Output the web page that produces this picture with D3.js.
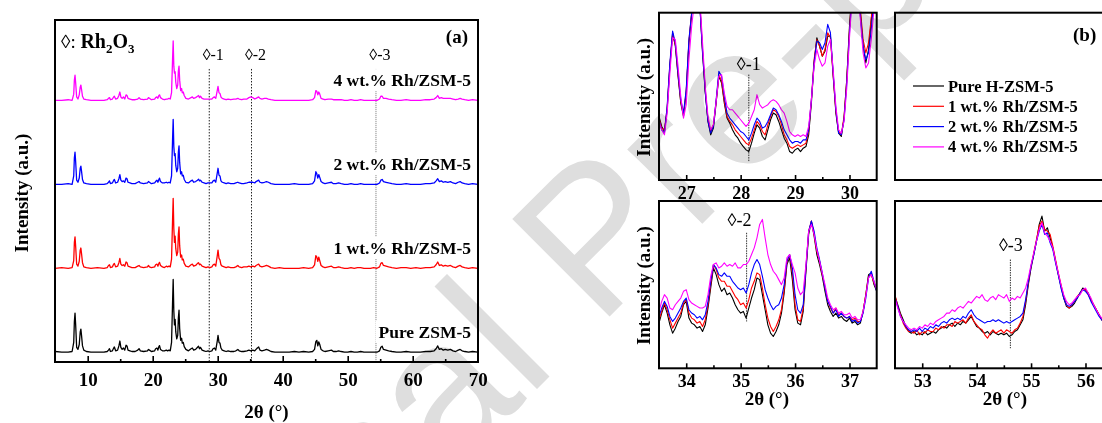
<!DOCTYPE html>
<html>
<head>
<meta charset="utf-8">
<script src="https://cdn.jsdelivr.net/npm/d3@7"></script>
<style>
  body { margin: 0; background: #fff; }
  svg { display: block; }
</style>
</head>
<body>
<svg id="chart" width="1102" height="423"></svg>
<script>
// ---------- Panel (a): full XRD patterns, 5–70° ----------
const anglesA = [
  5, 6, 7, 7.6, 7.85, 7.95, 8.05, 8.15, 8.3, 8.5,
  8.7, 8.85, 8.95, 9.05, 9.2, 9.4, 9.8, 10.5, 11.5, 12.5,
  13.0, 13.2, 13.35, 13.5, 13.8, 14.0, 14.1, 14.3, 14.6, 14.8,
  14.95, 15.1, 15.3, 15.5, 15.7, 15.9, 16.05, 16.2, 16.5, 16.8,
  17.3, 17.7, 17.9, 18.1, 18.6, 19.2, 19.35, 19.5, 19.8, 20.3,
  20.45, 20.65, 20.8, 20.95, 21.05, 21.2, 21.5, 21.8, 22.1, 22.3,
  22.5, 22.7, 22.9, 23.05, 23.15, 23.25, 23.35, 23.45, 23.55, 23.7,
  23.85, 23.95, 24.05, 24.15, 24.3, 24.45, 24.55, 24.7, 24.85, 25.1,
  25.5, 25.9, 26.1, 26.3, 26.6, 26.9, 27.05, 27.2, 27.35, 27.6,
  27.9, 28.2, 28.5, 28.8, 29.1, 29.3, 29.5, 29.7, 29.95, 30.05,
  30.2, 30.35, 30.5, 30.7, 31.0, 31.3, 31.6, 32.0, 32.5, 32.8,
  33.1, 33.3, 33.7, 34.0, 34.5, 34.8, 35.1, 35.4, 35.7, 35.9,
  36.1, 36.3, 36.5, 36.8, 37.2, 37.5, 37.8, 38.2, 38.8, 39.5,
  40.2, 41.0, 41.8, 42.5, 43.2, 44.0, 44.6, 44.9, 45.1, 45.25,
  45.4, 45.55, 45.7, 45.9, 46.2, 46.5, 47.0, 47.5, 47.8, 48.2,
  48.6, 49.0, 49.5, 50.0, 50.5, 51.0, 51.5, 52.0, 52.5, 53.0,
  53.5, 54.0, 54.5, 54.9, 55.1, 55.3, 55.5, 55.9, 56.3, 56.8,
  57.5, 58.2, 59.0, 59.7, 60.5, 61.2, 62.0, 62.7, 63.3, 63.6,
  63.85, 64.1, 64.4, 64.7, 65.0, 65.4, 65.8, 66.2, 66.6, 67.0,
  67.3, 67.6, 68.0, 68.6, 69.2, 70.0
];

const intensityPure = [
  2, 1, 1, 2, 15, 45, 57, 40, 8, 5,
  12, 30, 34, 25, 10, 4, 2, 1, 1, 1,
  2, 4, 6, 2, 3, 7, 8.5, 3, 4, 10,
  17, 8, 5, 7, 4, 11, 10, 4, 3, 2,
  2, 4, 6, 3, 2, 3, 5, 4, 2, 3,
  6, 7, 4, 9, 10.5, 5, 3, 3, 4, 3,
  4, 3, 15, 70, 105, 60, 40, 48, 30, 20,
  25, 50, 61, 35, 18, 21, 14, 15, 9, 5,
  3, 6, 7, 4, 5, 8, 9.5, 6, 8, 4,
  3, 2, 3, 2, 3, 6, 7, 4, 18, 25,
  15, 14, 7, 4, 3, 2, 3, 2, 2, 3,
  5, 3, 2, 2, 3, 4, 3, 4, 3, 5,
  7, 8.5, 4, 3, 4, 5, 4, 2, 1, 1,
  1, 1, 2, 1, 2, 1, 2, 5, 16, 18,
  10, 15.6, 12, 5, 3, 2, 3, 4, 2, 2,
  3, 2, 1, 1, 2, 1, 1, 2, 1, 1,
  1, 1, 1, 3, 8, 9.5, 5, 4, 3, 2,
  1, 1, 2, 1, 1, 1, 2, 2, 3, 6,
  10, 5, 6, 4, 5, 4, 5, 3, 2, 4,
  5, 3, 2, 1, 2, 1
];

const intensity1wt = [
  1, 2, 1, 2, 12, 38, 46, 32, 7, 4,
  11, 27, 30, 22, 9, 3, 2, 1, 2, 1,
  2, 5, 6, 2, 3, 7, 8, 3, 4, 9,
  15, 7, 5, 6, 4, 10, 9, 4, 3, 2,
  2, 4, 5, 3, 2, 3, 5, 3, 2, 3,
  6, 7, 4, 8, 9.5, 5, 3, 2, 4, 3,
  4, 3, 14, 68, 101, 58, 38, 47, 29, 19,
  24, 50, 60, 33, 17, 20, 13, 14, 8, 4,
  3, 6, 7, 4, 5, 8, 9, 6, 7, 4,
  3, 2, 3, 2, 3, 6, 7, 4, 20, 27,
  15, 13, 6, 4, 3, 2, 3, 2, 2, 3,
  5, 3, 2, 3, 3, 4, 3, 4, 3, 5,
  6, 7, 4, 3, 4, 5, 4, 2, 1, 2,
  1, 1, 1, 1, 2, 1, 2, 6, 19, 17,
  11, 17, 12, 5, 3, 2, 3, 4, 2, 2,
  3, 2, 1, 1, 2, 1, 2, 2, 1, 1,
  1, 2, 1, 3, 8, 9, 5, 4, 3, 2,
  1, 2, 2, 1, 2, 1, 2, 2, 3, 6,
  10, 5, 6, 4, 5, 4, 5, 3, 2, 4,
  5, 3, 2, 1, 2, 1
];

const intensity2wt = [
  1, 1, 2, 1, 13, 39, 47, 33, 7, 4,
  10, 24, 27, 20, 8, 3, 2, 1, 1, 1,
  2, 4, 6, 2, 3, 7, 8, 3, 4, 9,
  15, 7, 5, 6, 4, 10, 9, 4, 3, 2,
  2, 4, 5, 3, 2, 3, 5, 4, 2, 3,
  5, 7, 4, 8, 10, 5, 3, 3, 4, 3,
  4, 3, 13, 63, 94, 55, 42, 45, 28, 19,
  24, 47, 56, 32, 16, 19, 13, 14, 8, 4,
  3, 6, 7, 4, 5, 7, 8.5, 6, 7, 4,
  3, 2, 3, 3, 3, 6, 7, 4, 18, 24,
  14, 13, 6, 4, 3, 2, 3, 2, 2, 3,
  4, 3, 2, 2, 3, 4, 4, 4, 3, 5,
  6, 7, 4, 3, 4, 5, 4, 2, 1, 1,
  1, 1, 2, 1, 1, 1, 2, 6, 19, 16,
  10, 15, 11, 5, 3, 2, 3, 4, 2, 2,
  3, 2, 1, 1, 2, 1, 1, 2, 1, 1,
  1, 1, 1, 3, 7, 8, 5, 4, 3, 2,
  1, 1, 2, 1, 1, 1, 2, 2, 3, 6,
  9, 5, 6, 4, 5, 4, 5, 3, 2, 4,
  5, 3, 2, 1, 2, 1
];

const intensity4wt = [
  1, 1, 2, 1, 10, 30, 37, 26, 6, 3,
  9, 20, 23, 17, 7, 3, 2, 1, 1, 1,
  2, 4, 5, 2, 3, 6, 7, 3, 4, 8,
  13, 6, 4, 6, 3, 9, 8, 4, 3, 2,
  2, 3, 5, 3, 2, 3, 5, 4, 2, 3,
  5, 6, 4, 8, 9, 5, 3, 2, 3, 3,
  4, 3, 12, 58, 86, 50, 40, 42, 27, 18,
  23, 43, 50, 30, 15, 18, 12, 13, 8, 4,
  3, 5, 6, 4, 5, 7, 8, 5, 7, 4,
  3, 3, 3, 3, 3, 5, 6, 4, 16, 21,
  12, 11, 6, 4, 3, 2, 3, 2, 3, 3,
  4, 3, 2, 3, 3, 5, 6, 5, 3, 4,
  5, 6, 4, 3, 4, 4, 3, 2, 1, 1,
  1, 1, 1, 1, 1, 1, 2, 5, 15, 14,
  9, 13, 10, 4, 3, 2, 3, 3, 2, 2,
  2, 2, 1, 1, 2, 1, 1, 2, 1, 1,
  1, 1, 1, 3, 7, 7, 4, 4, 3, 2,
  1, 1, 2, 1, 1, 1, 2, 2, 3, 5,
  8, 4, 5, 4, 4, 4, 4, 3, 2, 3,
  4, 3, 2, 1, 2, 1
];

const samplesA = ["Pure ZSM-5", "1 wt.% Rh/ZSM-5", "2 wt.% Rh/ZSM-5", "4 wt.% Rh/ZSM-5"];
const stackOffsets = [0, 120, 240, 360];
const colors = ["#000000", "#ff0000", "#0000ff", "#ff00ff"];
const ticksA = [10, 20, 30, 40, 50, 60, 70];
const minorTicksA = [15, 25, 35, 45, 55, 65];
const markerAnglesA = [28.7, 35.2, 54.35];
const markerLabels = ["\u25CA-1", "\u25CA-2", "\u25CA-3"];

// ---------- Panel (b): zoomed windows ----------
const samplesB = ["Pure H-ZSM-5", "1 wt.% Rh/ZSM-5", "2 wt.% Rh/ZSM-5", "4 wt.% Rh/ZSM-5"];

const anglesB1 = [26.5,26.55,26.6,26.65,26.7,26.75,26.8,26.85,26.9,26.95,27,27.05,27.1,27.15,27.2,27.25,27.3,27.35,27.4,27.45,27.5,27.55,27.6,27.65,27.7,27.75,27.8,27.85,27.9,27.95,28,28.05,28.1,28.15,28.2,28.25,28.3,28.35,28.4,28.45,28.5,28.55,28.6,28.65,28.7,28.75,28.8,28.85,28.9,28.95,29,29.05,29.1,29.15,29.2,29.25,29.3,29.35,29.4,29.45,29.5,29.55,29.6,29.65,29.7,29.75,29.8,29.85,29.9,29.95,30,30.05,30.1,30.15,30.2,30.25,30.3,30.35,30.4,30.45,30.5];
const pureB1 = [38,32,29,42,68,88,80,62,46,38,52,82,99,112,118,105,76,52,35,27,31,46,62,58,46,37,34,30,27,25,22,20,18,17,22,28,33,31,26,24,30,36,40,39,35,30,25,22,17,16,18,19,17,19,20,27,46,70,85,80,74,77,86,86,63,40,28,26,37,60,92,115,125,118,100,80,70,78,95,112,122];
const wt1B1 = [37,31,30,43,69,87,81,63,47,39,53,83,100,113,119,106,78,54,36,29,33,47,63,59,47,38,35,33,30,28,26,24,22,21,25,30,35,33,29,27,33,38,42,41,38,33,27,24,20,19,20,21,20,21,22,29,48,72,84,80,74,78,88,85,62,41,29,27,38,60,90,114,124,118,102,84,76,82,97,112,120];
const wt2B1 = [36,30,28,44,70,89,82,64,48,40,54,84,100,112,118,104,77,53,35,28,32,48,65,62,50,40,37,35,33,31,29,28,26,24,28,33,37,35,31,32,35,39,43,42,39,35,30,27,24,22,23,23,22,24,24,30,48,70,83,82,78,82,93,88,64,42,28,27,36,58,88,112,122,116,98,80,72,76,90,108,118];
const wt4B1 = [35,30,27,40,64,85,84,68,50,37,45,72,92,106,114,108,82,56,38,30,33,47,62,63,52,44,42,42,40,38,36,34,32,34,38,42,51,45,43,44,45,47,48,47,45,42,40,35,29,27,26,27,26,27,26,32,48,68,78,72,68,70,80,84,66,44,30,28,35,55,85,110,120,115,96,76,67,70,84,102,114];

const anglesB2 = [33.5,33.55,33.6,33.65,33.7,33.75,33.8,33.85,33.9,33.95,34,34.05,34.1,34.15,34.2,34.25,34.3,34.35,34.4,34.45,34.5,34.55,34.6,34.65,34.7,34.75,34.8,34.85,34.9,34.95,35,35.05,35.1,35.15,35.2,35.25,35.3,35.35,35.4,35.45,35.5,35.55,35.6,35.65,35.7,35.75,35.8,35.85,35.9,35.95,36,36.05,36.1,36.15,36.2,36.25,36.3,36.35,36.4,36.45,36.5,36.55,36.6,36.65,36.7,36.75,36.8,36.85,36.9,36.95,37,37.05,37.1,37.15,37.2,37.25,37.3,37.35,37.4,37.45,37.5];
const pureB2 = [27,33,38,33,26,21,24,28,31,38,40,30,27,26,24,25,22,26,36,48,60,56,50,46,48,44,45,42,38,35,33,34,30,36,42,47,54,53,44,35,26,21,19,22,26,33,45,62,66,53,35,27,26,34,58,80,88,79,68,62,55,46,38,34,31,33,30,31,29,28,30,27,28,26,27,34,44,56,57,50,46];
const wt1B2 = [29,34,39,35,29,24,27,30,33,39,41,33,30,29,27,28,25,29,38,50,62,59,54,52,52,49,49,46,43,41,38,39,36,41,48,52,57,56,48,38,30,25,22,25,29,35,47,63,68,57,38,29,28,36,60,82,88,80,70,64,56,48,40,36,33,36,32,33,31,30,31,29,30,28,28,34,44,55,56,51,47];
const wt2B2 = [31,36,40,37,31,28,30,33,36,40,42,35,33,32,30,31,29,32,40,52,62,60,56,55,57,55,55,52,50,48,47,48,45,50,57,62,65,62,55,47,42,38,35,37,38,42,50,64,68,60,44,35,33,38,60,82,88,82,72,65,57,48,40,37,33,35,31,33,31,30,31,28,29,27,28,33,42,54,58,52,46];
const wt4B2 = [34,40,44,42,36,35,38,40,42,46,47,41,39,38,37,36,36,37,44,55,62,63,60,61,63,61,62,61,63,60,60,62,62,64,68,72,78,86,89,78,68,62,58,56,53,50,54,66,68,62,57,48,44,46,62,82,86,80,71,64,57,50,42,38,35,36,33,34,32,32,33,30,31,29,29,34,43,54,56,52,47];

const anglesB3 = [52.5,52.55,52.6,52.65,52.7,52.75,52.8,52.85,52.9,52.95,53,53.05,53.1,53.15,53.2,53.25,53.3,53.35,53.4,53.45,53.5,53.55,53.6,53.65,53.7,53.75,53.8,53.85,53.9,53.95,54,54.05,54.1,54.15,54.2,54.25,54.3,54.35,54.4,54.45,54.5,54.55,54.6,54.65,54.7,54.75,54.8,54.85,54.9,54.95,55,55.05,55.1,55.15,55.2,55.25,55.3,55.35,55.4,55.45,55.5,55.55,55.6,55.65,55.7,55.75,55.8,55.85,55.9,55.95,56,56.05,56.1,56.15,56.2,56.25,56.3,56.35,56.4,56.45,56.5];
const pureB3 = [43,38,33,29,25,22,21,22,20,21,20,22,20,21,22,21,23,24,25,24,26,27,25,27,26,28,27,29,31,28,25,24,22,21,22,20,22,21,20,21,20,21,19,20,22,23,26,29,38,50,60,68,76,86,91,82,84,78,72,64,56,49,42,37,36,37,39,42,45,48,47,45,41,38,35,32,29,27,26,25,24];
const wt1B3 = [44,37,32,27,24,22,22,21,23,20,22,21,23,22,22,24,23,25,24,26,26,25,28,27,28,29,27,30,32,28,26,24,23,20,18,21,23,21,22,23,21,23,22,21,23,24,27,31,40,51,61,69,77,85,88,83,82,80,73,65,57,50,43,38,36,38,40,43,45,47,47,44,41,38,35,32,29,28,26,25,24];
const wt2B3 = [42,37,31,28,25,23,22,23,22,24,22,24,23,25,24,26,25,27,28,27,29,30,29,30,29,31,30,33,35,32,30,29,28,27,28,28,29,28,29,28,27,28,27,28,29,30,31,33,41,52,61,68,76,82,86,80,81,75,71,63,56,48,42,38,37,38,40,42,45,47,46,44,40,37,34,31,29,27,26,25,24];
const wt4B3 = [42,36,31,28,26,24,23,24,23,25,24,26,25,27,26,28,29,30,31,33,33,35,34,36,37,36,38,40,39,41,43,42,44,41,40,42,43,41,44,43,42,44,40,42,41,43,42,45,48,54,62,69,76,83,87,81,79,76,72,64,57,50,44,40,38,39,41,43,44,47,48,45,42,38,35,32,30,28,26,25,24];

const windowsB = [
  { angles: anglesB1, series: [pureB1, wt1B1, wt2B1, wt4B1], domain: [26.5, 30.5], ticks: [27, 28, 29, 30], minor: [27.5, 28.5, 29.5],
    marker: 28.15, markerSpan: [11, 63], labelAngle: 28.15, labelLevel: 66, label: "\u25CA-1", yTitle: true, xTitle: false },
  { angles: anglesB2, series: [pureB2, wt1B2, wt2B2, wt4B2], domain: [33.5, 37.5], ticks: [34, 35, 36, 37], minor: [34.5, 35.5, 36.5],
    marker: 35.11, markerSpan: [28, 81], labelAngle: 34.98, labelLevel: 85, label: "\u25CA-2", yTitle: true, xTitle: true },
  { angles: anglesB3, series: [pureB3, wt1B3, wt2B3, wt4B3], domain: [52.5, 56.5], ticks: [53, 54, 55, 56], minor: [53.5, 54.5, 55.5, 56.5],
    marker: 54.62, markerSpan: [12, 65], labelAngle: 54.63, labelLevel: 70, label: "\u25CA-3", yTitle: false, xTitle: true }
];

// ---------- drawing ----------
const SERIF = '"Liberation Serif", "Times New Roman", Times, serif';
const svg = d3.select("#chart");
svg.append("rect").attr("width", 1102).attr("height", 423).attr("fill", "#fff");

function styleAxis(g, fontSize) {
  g.attr("font-family", null).attr("font-size", null);
  g.select(".domain").remove();
  g.selectAll(".tick line").attr("stroke", "#000").attr("stroke-width", 1.6);
  g.selectAll(".tick text")
    .attr("fill", "#000")
    .style("font-family", SERIF)
    .style("font-weight", "bold")
    .style("font-size", fontSize + "px");
}

// ----- panel (a) -----
const frameA = { left: 55, right: 478, top: 20, bottom: 362 };
const xA = d3.scaleLinear().domain([5, 70]).range([55.2, 477.7]);
const yA = d3.scaleLinear().domain([-13, 476]).range([frameA.bottom, frameA.top]);
const gA = svg.append("g");

// dotted guide lines for the Rh2O3 reflections
markerAnglesA.forEach((a, i) => {
  gA.append("line")
    .attr("x1", xA(a)).attr("x2", xA(a))
    .attr("y1", yA(406)).attr("y2", frameA.bottom)
    .attr("stroke", i === 2 ? "#8a8a8a" : "#222")
    .attr("stroke-width", 1)
    .attr("stroke-dasharray", i === 2 ? "1.2,0.8" : "1.5,1.5");
  gA.append("text")
    .attr("x", xA(a) + 4).attr("y", 60)
    .attr("text-anchor", "middle")
    .style("font-family", SERIF).style("font-size", "16px")
    .text(markerLabels[i]);
});

// sample labels with white backing (they sit over the guide lines)
samplesA.forEach((name, i) => {
  const t = gA.append("text")
    .attr("x", 471).attr("y", yA(stackOffsets[i]) - 15)
    .attr("text-anchor", "end")
    .style("font-family", SERIF).style("font-weight", "bold").style("font-size", "17.5px")
    .text(name);
  const bb = t.node().getBBox();
  gA.insert("rect", () => t.node())
    .attr("x", bb.x - 3).attr("y", bb.y - 1).attr("width", bb.width + 6).attr("height", bb.height + 2)
    .attr("fill", "#fff");
});

// stacked patterns
const seriesA = [intensityPure, intensity1wt, intensity2wt, intensity4wt];
seriesA.forEach((vals, i) => {
  const line = d3.line()
    .x((d, j) => xA(anglesA[j]))
    .y(d => yA(d + stackOffsets[i]));
  gA.append("path")
    .attr("d", line(vals))
    .attr("fill", "none")
    .attr("stroke", colors[i])
    .attr("stroke-width", 1.3)
    .attr("stroke-linejoin", "round");
});

// frame and bottom axis
gA.append("rect")
  .attr("x", frameA.left).attr("y", frameA.top)
  .attr("width", frameA.right - frameA.left).attr("height", frameA.bottom - frameA.top)
  .attr("fill", "none").attr("stroke", "#000").attr("stroke-width", 2);

gA.append("g").attr("transform", `translate(0,${frameA.bottom})`)
  .call(d3.axisBottom(xA).tickValues(ticksA).tickSize(-6).tickPadding(10.5).tickFormat(d3.format("d")))
  .call(g => styleAxis(g, 19));
gA.append("g").attr("transform", `translate(0,${frameA.bottom})`)
  .call(d3.axisBottom(xA).tickValues(minorTicksA).tickSize(-3).tickFormat(""))
  .call(g => styleAxis(g, 19));

gA.append("text")
  .attr("x", (frameA.left + frameA.right) / 2).attr("y", 418)
  .attr("text-anchor", "middle")
  .style("font-family", SERIF).style("font-weight", "bold").style("font-size", "19px")
  .text("2\u03B8 (\u00B0)");

gA.append("text")
  .attr("transform", `translate(28,${(frameA.top + frameA.bottom) / 2 + 2}) rotate(-90)`)
  .attr("text-anchor", "middle")
  .style("font-family", SERIF).style("font-weight", "bold").style("font-size", "19px")
  .text("Intensity (a.u.)");

// legend note and panel tag
const note = gA.append("text").attr("x", 61).attr("y", 48)
  .style("font-family", SERIF).style("font-size", "19px");
note.append("tspan").text("\u25CA: ");
note.append("tspan").style("font-weight", "bold").style("font-size", "20px").text("Rh");
note.append("tspan").style("font-weight", "bold").style("font-size", "13px").attr("dy", 5).text("2");
note.append("tspan").style("font-weight", "bold").style("font-size", "20px").attr("dy", -5).text("O");
note.append("tspan").style("font-weight", "bold").style("font-size", "13px").attr("dy", 5).text("3");

gA.append("text").attr("x", 468).attr("y", 43).attr("text-anchor", "end")
  .style("font-family", SERIF).style("font-weight", "bold").style("font-size", "19px")
  .text("(a)");

// ----- panel (b) -----
const boxW = 217.7, boxH = 167.3;
const boxes = [
  { x: 659, y: 12.7 },   // 26.5–30.5
  { x: 659, y: 201 },    // 33.5–37.5
  { x: 895, y: 201 }     // 52.5–56.5
];
const defs = svg.append("defs");

windowsB.forEach((w, k) => {
  const b = boxes[k];
  const x = d3.scaleLinear().domain(w.domain).range([b.x, b.x + boxW]);
  const y = d3.scaleLinear().domain([0, 100]).range([b.y + boxH, b.y]);
  const g = svg.append("g");

  defs.append("clipPath").attr("id", "clip" + k)
    .append("rect").attr("x", b.x).attr("y", b.y).attr("width", boxW).attr("height", boxH);

  g.append("line")
    .attr("x1", x(w.marker)).attr("x2", x(w.marker))
    .attr("y1", y(w.markerSpan[1])).attr("y2", y(w.markerSpan[0]))
    .attr("stroke", "#333").attr("stroke-width", 1).attr("stroke-dasharray", "1.5,1");
  g.append("text")
    .attr("x", x(w.labelAngle)).attr("y", y(w.labelLevel))
    .attr("text-anchor", "middle")
    .style("font-family", SERIF).style("font-size", "18px")
    .text(w.label);

  const traces = g.append("g").attr("clip-path", `url(#clip${k})`);
  w.series.forEach((vals, i) => {
    const line = d3.line().x((d, j) => x(w.angles[j])).y(d => y(d));
    traces.append("path")
      .attr("d", line(vals))
      .attr("fill", "none")
      .attr("stroke", colors[i])
      .attr("stroke-width", 1.1)
      .attr("stroke-linejoin", "round");
  });

  g.append("rect")
    .attr("x", b.x).attr("y", b.y).attr("width", boxW).attr("height", boxH)
    .attr("fill", "none").attr("stroke", "#000").attr("stroke-width", 2);

  g.append("g").attr("transform", `translate(0,${b.y + boxH})`)
    .call(d3.axisBottom(x).tickValues(w.ticks).tickSize(-5).tickPadding(6).tickFormat(d3.format("d")))
    .call(gg => styleAxis(gg, 18));
  g.append("g").attr("transform", `translate(0,${b.y + boxH})`)
    .call(d3.axisBottom(x).tickValues(w.minor).tickSize(-3).tickFormat(""))
    .call(gg => styleAxis(gg, 18));

  if (w.xTitle) {
    g.append("text")
      .attr("x", b.x + boxW / 2 - (k === 1 ? 1 : -1)).attr("y", 405)
      .attr("text-anchor", "middle")
      .style("font-family", SERIF).style("font-weight", "bold").style("font-size", "19px")
      .text("2\u03B8 (\u00B0)");
  }
  if (w.yTitle) {
    g.append("text")
      .attr("transform", `translate(650,${b.y + boxH / 2 + 1}) rotate(-90)`)
      .attr("text-anchor", "middle")
      .style("font-family", SERIF).style("font-weight", "bold").style("font-size", "19px")
      .text("Intensity (a.u.)");
  }
});

// legend box (top right)
const leg = svg.append("g");
leg.append("rect")
  .attr("x", 895).attr("y", 12.7).attr("width", boxW).attr("height", boxH)
  .attr("fill", "none").attr("stroke", "#000").attr("stroke-width", 2);
leg.append("text").attr("x", 1073).attr("y", 41)
  .style("font-family", SERIF).style("font-weight", "bold").style("font-size", "19px")
  .text("(b)");
samplesB.forEach((name, i) => {
  const yy = 86 + i * 20.3;
  leg.append("line").attr("x1", 913).attr("x2", 944).attr("y1", yy).attr("y2", yy)
    .attr("stroke", colors[i]).attr("stroke-width", 1.2);
  leg.append("text").attr("x", 948).attr("y", yy + 5.5)
    .style("font-family", SERIF).style("font-weight", "bold").style("font-size", "16.5px")
    .text(name);
});

// journal watermark, multiplied over the page
svg.append("text")
  .attr("transform", "translate(95,831) rotate(-45)")
  .style("font-family", '"Liberation Sans", Arial, sans-serif')
  .style("font-size", "200px")
  .style("mix-blend-mode", "multiply")
  .attr("fill", "#dedede")
  .text("Journal Pre-proof");
</script>
</body>
</html>
